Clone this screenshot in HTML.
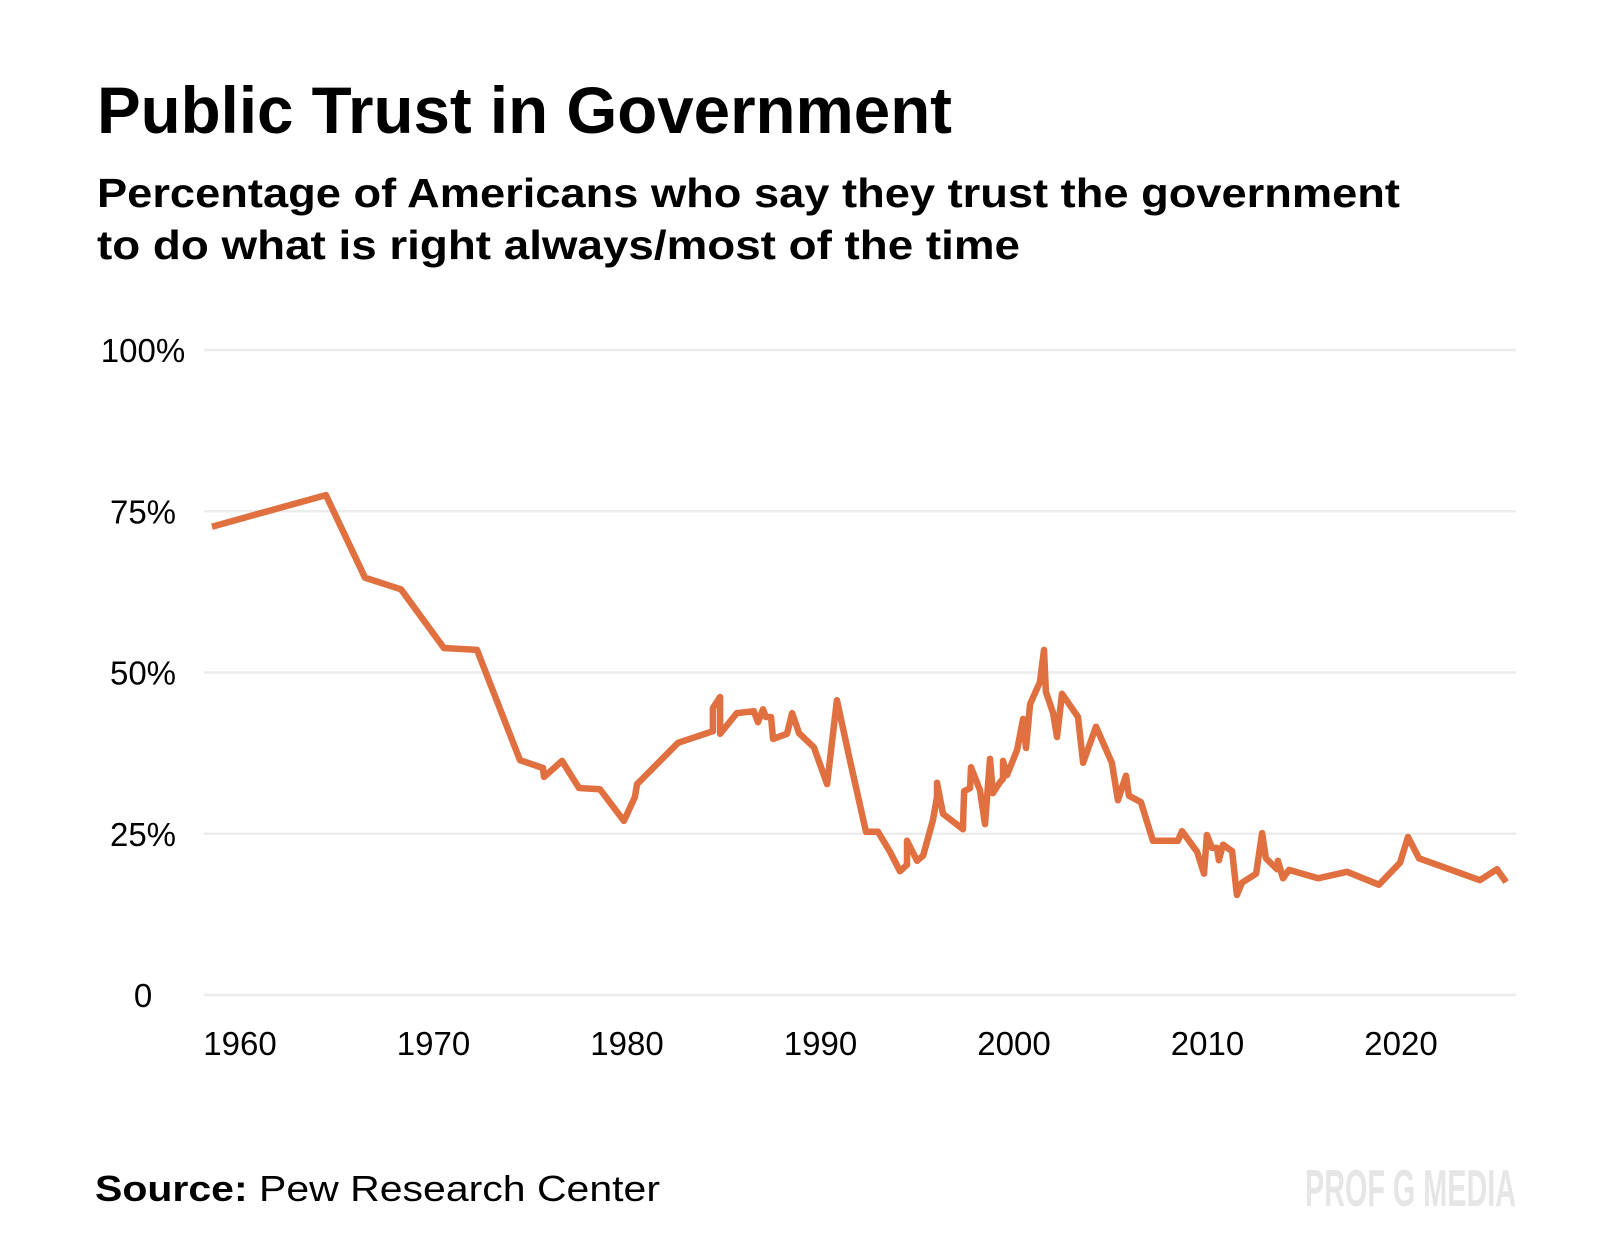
<!DOCTYPE html>
<html><head><meta charset="utf-8">
<style>
html,body{margin:0;padding:0;background:#fff;}
svg{display:block;}
text{font-family:"Liberation Sans",sans-serif;}
</style></head>
<body>
<svg id="chart" width="1600" height="1256" viewBox="0 0 1600 1256" xmlns="http://www.w3.org/2000/svg">
<rect width="1600" height="1256" fill="#fff"/>
<text x="97" y="133" font-size="66" font-weight="bold" fill="#000" textLength="855" lengthAdjust="spacingAndGlyphs">Public Trust in Government</text>
<text x="97" y="207" font-size="41" font-weight="bold" fill="#000" textLength="1303" lengthAdjust="spacingAndGlyphs">Percentage of Americans who say they trust the government</text>
<text x="97" y="259" font-size="41" font-weight="bold" fill="#000" textLength="923" lengthAdjust="spacingAndGlyphs">to do what is right always/most of the time</text>
<g id="grid"></g>
<g id="ylabels"></g>
<g id="xlabels"></g>
<path id="line" fill="none" stroke="#e0703f" stroke-width="6.5" stroke-linejoin="round" stroke-linecap="butt"/>
<text x="95" y="1201" font-size="36" fill="#000" textLength="565" lengthAdjust="spacingAndGlyphs"><tspan font-weight="bold">Source:</tspan> Pew Research Center</text>
<text x="1305" y="1206" font-size="52" font-weight="bold" fill="#e6e6e6" style="font-family:'Liberation Sans Narrow','Liberation Sans',sans-serif" textLength="211" lengthAdjust="spacingAndGlyphs">PROF G MEDIA</text>
</svg>
<script>
const years = [1958.55,1964.44,1966.46,1968.32,1970.54,1972.25,1974.47,1975.66,1975.71,1976.64,1977.52,1978.60,1979.84,1980.41,1980.52,1982.64,1984.44,1984.44,1984.81,1984.81,1985.68,1986.56,1986.77,1987.03,1987.18,1987.44,1987.55,1988.27,1988.53,1988.89,1989.66,1990.34,1990.85,1991.52,1992.35,1992.97,1993.59,1994.11,1994.47,1994.47,1994.99,1995.30,1995.81,1996.02,1996.02,1996.33,1997.36,1997.42,1997.73,1997.78,1998.24,1998.50,1998.76,1998.91,1999.28,1999.43,1999.43,1999.64,2000.16,2000.47,2000.62,2000.83,2001.34,2001.55,2001.65,2002.02,2002.22,2002.48,2003.31,2003.57,2004.24,2005.06,2005.37,2005.79,2005.94,2006.56,2007.18,2008.47,2008.68,2009.46,2009.82,2009.97,2010.23,2010.49,2010.59,2010.80,2011.27,2011.52,2011.78,2012.51,2012.82,2013.02,2013.59,2013.64,2013.90,2014.21,2015.71,2017.21,2018.86,2019.95,2020.36,2020.93,2024.08,2024.96,2025.43];
const trustValues = [72.6,77.5,64.7,62.9,53.8,53.5,36.4,35.2,33.8,36.3,32.1,31.9,27.0,30.7,32.7,39.1,40.9,44.5,46.2,40.5,43.7,44.0,42.3,44.3,43.1,43.1,39.7,40.5,43.7,40.6,38.4,32.7,45.7,36.4,25.3,25.3,22.2,19.2,20.2,23.9,20.8,21.6,27.1,30.7,32.9,28.1,25.7,31.6,32.1,35.3,31.8,26.5,36.6,31.3,33.0,33.5,36.3,34.1,38.0,42.8,38.3,45.1,48.5,53.5,47.0,43.7,40.0,46.7,43.1,36.0,41.6,36.0,30.2,34.0,30.9,29.9,23.9,23.9,25.4,22.2,18.8,24.8,22.8,22.8,20.9,23.3,22.3,15.5,17.4,18.8,25.1,21.2,19.5,20.8,18.1,19.4,18.1,19.1,17.1,20.5,24.5,21.2,17.8,19.5,17.5];
const yTicks = [0,25,50,75,100];
const yTickLabels = ["0","25%","50%","75%","100%"];
const xTicks = [1960,1970,1980,1990,2000,2010,2020];

const NS = "http://www.w3.org/2000/svg";
function xScale(yr){ return 240 + (yr - 1960) * 19.35; }
function yScale(v){ return 995 - v * 6.45; }

const grid = document.getElementById('grid');
const yl = document.getElementById('ylabels');
yTicks.forEach((t, i) => {
  const ln = document.createElementNS(NS, 'line');
  
  
  ln.setAttribute('x1', 204); ln.setAttribute('x2', 1516);
  ln.setAttribute('y1', yScale(t)); ln.setAttribute('y2', yScale(t));
  ln.setAttribute('stroke', '#ececec'); ln.setAttribute('stroke-width', 2.5);
  grid.appendChild(ln);
  const tx = document.createElementNS(NS, 'text');
  
  
  tx.setAttribute('x', 143); tx.setAttribute('y', yScale(t) + 12);
  tx.setAttribute('text-anchor', 'middle'); tx.setAttribute('font-size', 33);
  tx.setAttribute('fill', '#000');
  tx.textContent = yTickLabels[i];
  yl.appendChild(tx);
});
const xl = document.getElementById('xlabels');
xTicks.forEach(t => {
  const tx = document.createElementNS(NS, 'text');
  
  
  tx.setAttribute('x', xScale(t)); tx.setAttribute('y', 1055);
  tx.setAttribute('text-anchor', 'middle'); tx.setAttribute('font-size', 33);
  tx.setAttribute('fill', '#000');
  tx.textContent = String(t);
  xl.appendChild(tx);
});
let d = '';
years.forEach((yr, i) => {
  d += (i ? 'L' : 'M') + xScale(yr).toFixed(1) + ',' + yScale(trustValues[i]).toFixed(1);
});
document.getElementById('line').setAttribute('d', d);
</script>
</body></html>
